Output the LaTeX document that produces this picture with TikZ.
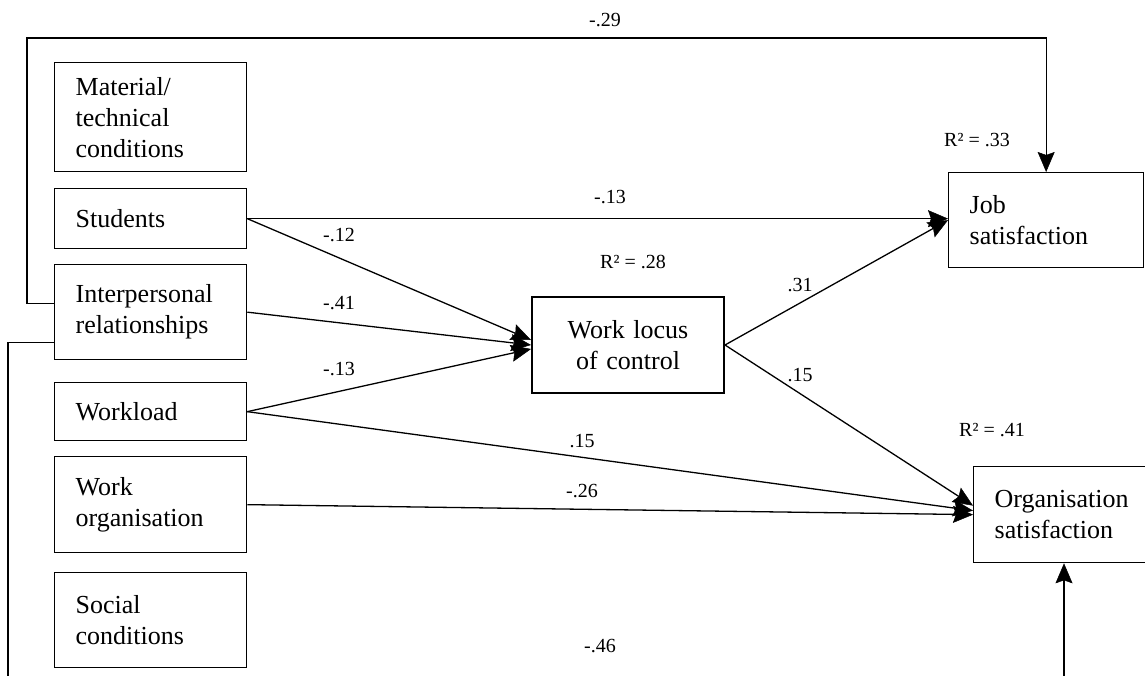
\documentclass[tikz,border=0pt]{standalone}
\usepackage{fontspec}
\setmainfont{Liberation Serif}
\usetikzlibrary{arrows.meta}
\begin{document}
\begin{tikzpicture}[x=1pt,y=-1pt]%
  \tikzstyle{boxn}=[rectangle,draw,line width=1.3pt,anchor=north west,inner xsep=21pt,inner ysep=0pt,align=left,font=\fontsize{26}{31}\selectfont]
  \tikzstyle{facn}=[boxn,minimum width=192pt,text width=150pt]
  \tikzstyle{outn}=[boxn,minimum width=195pt,text width=153pt]
  \tikzstyle{midn}=[boxn,line width=2pt,minimum width=192pt,minimum height=96pt,text width=150pt,align=center]
  \tikzstyle{labn}=[font=\fontsize{20}{24}\selectfont,inner sep=0pt]
  \tikzstyle{arr}=[line width=1.3pt,-{Stealth[length=20pt,width=17pt,inset=3pt,line width=0.5pt]}]
  \useasboundingbox (0,0) rectangle (1145,676);
  \clip (0,0) rectangle (1145,676);
  \node(mat)[facn,minimum height=109pt] at (54,62) {Material/\\technical\\conditions};
  \node(stu)[facn,minimum height=60pt] at (54,188) {Students};
  \node(int)[facn,minimum height=95pt] at (54,264) {Interpersonal\\relationships};
  \node(wkl)[facn,minimum height=58pt] at (54,382) {Workload};
  \node(wor)[facn,minimum height=96pt] at (54,456) {Work\\organisation};
  \node(soc)[facn,minimum height=95pt] at (54,572) {Social\\conditions};
  \node(wlc)[midn] at (531,296) {Work locus\\of control};
  \node(job)[outn,minimum height=95pt] at (948,172) {Job\\satisfaction};
  \node(org)[outn,minimum height=96pt] at (973,466) {Organisation\\satisfaction};
  \node(r33)[labn] at (977,140) {R² = .33};
  \node(r28)[labn] at (633,262) {R² = .28};
  \node(r41)[labn] at (992,430) {R² = .41};
  \node(b29)[labn] at (605,20) {-.29};
  \node(b13a)[labn] at (610,197) {-.13};
  \node(b12)[labn] at (339,235) {-.12};
  \node(b41)[labn] at (339,303) {-.41};
  \node(b13b)[labn] at (339,369) {-.13};
  \node(b31)[labn] at (800,285) {.31};
  \node(b15a)[labn] at (800,375) {.15};
  \node(b15b)[labn] at (582,441) {.15};
  \node(b26)[labn] at (582,491) {-.26};
  \node(b46)[labn] at (600,646) {-.46};
  \coordinate(tl) at (27,38);
  \coordinate(bl) at (8,700);
  \coordinate(br) at (1064,700);
  \draw[arr] (stu.east) -- (stu.east -| job.west);
  \draw[arr] (stu.east) -- ([yshift=5pt]wlc.west);
  \draw[arr] (int.east) -- (wlc.west);
  \draw[arr] (wkl.east) -- ([yshift=-4pt]wlc.west);
  \draw[arr] (wlc.east) -- (job.west);
  \draw[arr] (wlc.east) -- ([yshift=9pt]org.west);
  \draw[arr] (wkl.east) -- ([yshift=4pt]org.west);
  \draw[arr] (wor.east) -- (org.west);
  \draw[arr] ([yshift=9pt]int.west) -| (tl) -| (job.north);
  \draw[arr] ([yshift=-30pt]int.west) -| (bl) -- (br) -- (br |- org.south);
\end{tikzpicture}
\end{document}
